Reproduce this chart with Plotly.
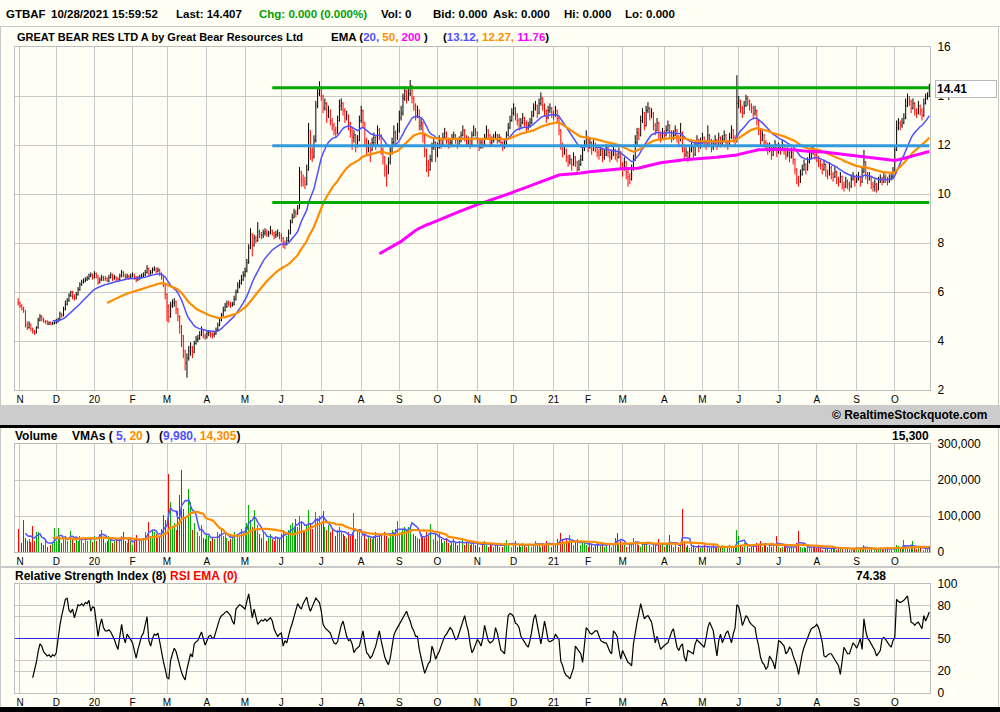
import numpy as np
import pandas as pd
import plotly.graph_objects as go

# ---------------- data ----------------
holidays = ["2019-11-28", "2019-12-25", "2020-01-01", "2020-01-20", "2020-02-17", "2020-04-10",
            "2020-05-25", "2020-07-03", "2020-09-07", "2020-11-26", "2020-12-25", "2021-01-01",
            "2021-01-18", "2021-02-15", "2021-04-02", "2021-05-31", "2021-07-05", "2021-09-06"]
first_open = 5.60

close = [
    5.55, 5.45, 5.30, 5.25, 4.65, 4.55, 4.70, 4.50, 4.40, 4.35,
    4.55, 4.85, 5.00, 4.90, 4.80, 4.80, 4.70, 4.75, 4.70, 4.72,
    4.75, 4.80, 4.90, 5.10, 5.05, 5.30, 5.50, 5.65, 5.85, 6.00,
    5.80, 5.75, 5.90, 6.10, 6.30, 6.40, 6.45, 6.50, 6.55, 6.65,
    6.70, 6.60, 6.75, 6.65, 6.40, 6.50, 6.60, 6.55, 6.55, 6.45,
    6.60, 6.70, 6.55, 6.60, 6.55, 6.50, 6.65, 6.80, 6.70, 6.60,
    6.65, 6.60, 6.65, 6.70, 6.60, 6.50, 6.55, 6.60, 6.65, 6.70,
    6.80, 6.95, 6.75, 6.80, 6.90, 6.95, 6.85, 6.90, 6.75, 6.60,
    6.30, 5.90, 5.40, 5.00, 5.45, 5.55, 5.60, 5.30, 5.00, 4.60,
    4.20, 3.60, 3.10, 3.30, 3.60, 3.75, 3.55, 3.90, 4.05, 4.10,
    4.25, 4.40, 4.20, 4.15, 4.30, 4.35, 4.30, 4.25, 4.30, 4.45,
    4.65, 4.85, 5.05, 5.25, 5.40, 5.55, 5.50, 5.45, 5.50, 5.70,
    6.00, 6.25, 6.35, 6.50, 6.70, 6.85, 7.20, 7.80, 8.35, 7.90,
    8.20, 8.10, 8.45, 8.35, 8.30, 8.40, 8.45, 8.35, 8.40, 8.50,
    8.40, 8.30, 8.35, 8.40, 8.30, 8.20, 8.00, 7.95, 8.10, 8.40,
    8.85, 9.05, 9.25, 9.20, 9.40, 10.90, 10.60, 10.50, 10.40, 11.00,
    12.60, 11.70, 11.50, 12.20, 13.60, 14.10, 14.30, 14.00, 13.50, 13.70,
    13.20, 13.40, 13.00, 12.80, 12.60, 12.50, 13.00, 13.60, 13.70, 13.40,
    13.10, 13.20, 12.90, 12.60, 12.30, 12.40, 12.00, 12.20, 13.00, 13.40,
    12.90, 12.20, 11.90, 12.00, 11.80, 12.10, 12.30, 12.00, 12.60, 12.40,
    11.80, 11.50, 11.00, 10.90, 11.30, 11.70, 12.10, 12.50, 12.30, 12.60,
    13.10, 13.30, 13.90, 14.20, 13.90, 14.10, 14.40, 13.90, 13.60, 13.20,
    13.40, 12.80, 12.90, 12.40, 11.80, 11.20, 11.00, 11.40, 11.90, 12.10,
    11.60, 11.90, 12.20, 12.00, 12.30, 12.50, 12.20, 12.00, 12.10, 12.30,
    12.40, 12.20, 12.00, 12.20, 12.40, 12.60, 12.30, 12.10, 12.20, 12.00,
    12.40, 12.60, 12.50, 12.20, 11.90, 12.10, 12.00, 12.30, 12.60, 12.40,
    12.10, 12.20, 12.30, 12.40, 12.20, 12.30, 12.10, 11.90, 12.00, 12.40,
    12.70, 13.00, 13.30, 13.50, 13.20, 13.00, 12.80, 12.90, 13.10, 12.90,
    12.70, 12.80, 12.90, 13.20, 13.50, 13.60, 13.30, 13.70, 13.90, 13.60,
    13.40, 13.10, 13.40, 13.50, 13.30, 13.20, 13.40, 13.10, 12.60, 12.00,
    11.70, 11.80, 11.50, 11.30, 11.40, 11.20, 11.50, 11.30, 11.00, 11.20,
    11.40, 11.80, 12.00, 12.30, 11.90, 12.10, 11.80, 12.00, 11.90, 11.70,
    11.60, 11.80, 11.50, 11.60, 11.90, 11.70, 11.50, 11.60, 11.80, 11.60,
    11.50, 11.70, 11.20, 11.00, 11.30, 10.90, 10.70, 10.60, 11.00, 11.40,
    12.10, 12.50, 12.40, 13.00, 13.30, 12.80, 13.40, 13.50, 13.20, 13.30,
    12.80, 12.60, 12.90, 12.40, 12.30, 12.50, 12.40, 12.60, 12.80, 12.50,
    12.30, 12.40, 12.60, 12.30, 12.20, 12.50, 11.90, 11.60, 11.70, 11.50,
    11.80, 11.90, 11.60, 12.00, 12.20, 11.90, 12.10, 12.30, 12.10, 12.00,
    12.40, 12.20, 11.90, 12.00, 12.20, 12.00, 12.30, 12.10, 12.20, 12.40,
    12.10, 12.00, 12.30, 12.60, 12.30, 12.20, 13.70, 13.80, 13.50, 13.30,
    13.60, 13.90, 13.80, 13.60, 13.50, 13.30, 13.40, 13.00, 12.60, 12.20,
    12.40, 12.10, 12.00, 11.80, 11.90, 11.60, 11.80, 12.00, 11.70, 11.90,
    11.80, 12.00, 11.80, 11.60, 11.70, 11.50, 11.70, 11.40, 11.00, 10.60,
    10.50, 10.80, 11.00, 11.20, 11.00, 11.30, 11.50, 11.70, 11.80, 11.60,
    11.50, 11.30, 11.20, 11.00, 11.20, 10.90, 10.80, 11.10, 10.80, 10.70,
    10.90, 10.60, 10.50, 10.70, 10.40, 10.30, 10.50, 10.40, 10.30, 10.60,
    10.70, 10.50, 10.60, 10.70, 10.50, 10.90, 11.30, 10.80, 10.60, 10.70,
    10.40, 10.30, 10.40, 10.20, 10.50, 10.60, 10.50, 10.70, 10.60, 10.50,
    10.60, 10.70, 10.90, 11.80, 12.70, 12.90, 12.80, 12.90, 13.10, 13.60,
    13.90, 13.80, 13.50, 13.70, 13.40, 13.30, 13.60, 13.40, 13.20, 13.70,
    13.90, 14.00, 14.407]

high = [
    5.75, 5.60, 5.50, 5.40, 5.25, 4.80, 4.80, 4.70, 4.55, 4.45,
    4.60, 4.95, 5.10, 5.05, 4.95, 4.85, 4.85, 4.80, 4.80, 4.78,
    4.80, 4.90, 4.95, 5.20, 5.15, 5.40, 5.65, 5.75, 5.95, 6.05,
    6.05, 5.90, 6.00, 6.20, 6.40, 6.50, 6.55, 6.60, 6.65, 6.75,
    6.80, 6.75, 6.85, 6.80, 6.70, 6.60, 6.70, 6.65, 6.65, 6.60,
    6.70, 6.80, 6.75, 6.70, 6.65, 6.60, 6.75, 6.90, 6.85, 6.75,
    6.75, 6.70, 6.75, 6.80, 6.75, 6.65, 6.65, 6.70, 6.75, 6.80,
    6.90, 7.10, 7.00, 6.90, 7.00, 7.05, 7.00, 7.00, 6.95, 6.80,
    6.65, 6.35, 5.95, 5.50, 5.60, 5.70, 5.75, 5.65, 5.35, 5.05,
    4.65, 4.25, 3.65, 3.50, 3.80, 3.95, 3.80, 4.00, 4.20, 4.25,
    4.40, 4.60, 4.45, 4.30, 4.45, 4.45, 4.40, 4.35, 4.40, 4.55,
    4.75, 4.95, 5.15, 5.40, 5.55, 5.65, 5.65, 5.60, 5.60, 5.85,
    6.10, 6.40, 6.50, 6.70, 6.85, 7.00, 7.35, 7.95, 8.60, 8.40,
    8.35, 8.30, 8.85, 8.55, 8.45, 8.55, 8.60, 8.55, 8.50, 8.70,
    8.55, 8.45, 8.50, 8.55, 8.45, 8.40, 8.25, 8.10, 8.25, 8.55,
    8.95, 9.20, 9.40, 9.35, 9.55, 11.10, 10.95, 10.80, 10.70, 11.20,
    12.90, 12.60, 11.90, 12.40, 13.80, 14.30, 14.60, 14.40, 14.05, 13.90,
    13.75, 13.60, 13.45, 13.10, 12.90, 12.75, 13.20, 13.85, 13.90, 13.75,
    13.50, 13.40, 13.25, 12.95, 12.70, 12.60, 12.45, 12.40, 13.20, 13.60,
    13.45, 12.95, 12.30, 12.20, 12.10, 12.30, 12.50, 12.35, 12.80, 12.70,
    12.45, 11.90, 11.55, 11.20, 11.50, 11.90, 12.30, 12.80, 12.60, 12.90,
    13.40, 13.60, 14.10, 14.40, 14.25, 14.30, 14.65, 14.45, 14.00, 13.70,
    13.60, 13.45, 13.10, 12.95, 12.45, 11.85, 11.40, 11.60, 12.10, 12.30,
    12.15, 12.10, 12.40, 12.30, 12.50, 12.70, 12.55, 12.30, 12.25, 12.45,
    12.55, 12.45, 12.30, 12.35, 12.55, 12.80, 12.65, 12.40, 12.35, 12.30,
    12.55, 12.80, 12.70, 12.55, 12.25, 12.25, 12.20, 12.45, 12.80, 12.65,
    12.45, 12.35, 12.45, 12.55, 12.45, 12.45, 12.35, 12.15, 12.20, 12.55,
    12.90, 13.20, 13.50, 13.70, 13.55, 13.30, 13.10, 13.10, 13.30, 13.15,
    13.00, 12.95, 13.10, 13.40, 13.70, 13.80, 13.65, 13.90, 14.15, 13.95,
    13.70, 13.45, 13.60, 13.70, 13.55, 13.40, 13.60, 13.45, 13.15, 12.65,
    12.10, 12.00, 11.85, 11.60, 11.60, 11.45, 11.70, 11.55, 11.35, 11.40,
    11.60, 12.00, 12.20, 12.60, 12.35, 12.30, 12.15, 12.20, 12.10, 12.00,
    11.85, 12.00, 11.85, 11.80, 12.05, 11.95, 11.75, 11.80, 12.00, 11.85,
    11.70, 11.90, 11.75, 11.30, 11.50, 11.35, 11.00, 10.85, 11.20, 11.60,
    12.40, 12.70, 12.70, 13.20, 13.50, 13.35, 13.60, 13.75, 13.55, 13.50,
    13.35, 12.90, 13.10, 12.95, 12.55, 12.70, 12.60, 12.80, 13.00, 12.85,
    12.60, 12.60, 12.80, 12.65, 12.40, 12.90, 12.55, 12.00, 11.90, 11.75,
    12.00, 12.10, 11.95, 12.20, 12.40, 12.25, 12.30, 12.50, 12.35, 12.20,
    12.80, 12.45, 12.25, 12.20, 12.40, 12.25, 12.50, 12.35, 12.40, 12.60,
    12.45, 12.20, 12.50, 12.80, 12.65, 12.40, 14.85, 14.00, 13.85, 13.60,
    13.80, 14.05, 14.00, 13.85, 13.70, 13.60, 13.60, 13.45, 13.05, 12.65,
    12.60, 12.45, 12.20, 12.10, 12.10, 11.95, 12.00, 12.20, 12.05, 12.10,
    12.00, 12.20, 12.05, 11.90, 11.90, 11.75, 11.90, 11.75, 11.45, 11.05,
    10.75, 11.00, 11.20, 11.40, 11.25, 11.50, 11.70, 11.90, 12.00, 11.85,
    11.70, 11.55, 11.40, 11.25, 11.40, 11.25, 11.00, 11.30, 11.15, 10.90,
    11.10, 10.95, 10.70, 10.90, 10.75, 10.50, 10.70, 10.60, 10.50, 10.80,
    10.90, 10.75, 10.80, 10.90, 10.75, 11.10, 11.80, 11.35, 10.90, 10.90,
    10.75, 10.50, 10.60, 10.45, 10.70, 10.80, 10.70, 10.90, 10.80, 10.70,
    10.80, 10.90, 11.10, 12.00, 13.00, 13.10, 13.00, 13.10, 13.30, 13.90,
    14.10, 14.00, 13.85, 13.90, 13.75, 13.50, 13.80, 13.65, 13.50, 13.90,
    14.10, 14.15, 14.50]

low = [
    5.45, 5.35, 5.25, 5.15, 4.55, 4.45, 4.50, 4.40, 4.30, 4.25,
    4.30, 4.50, 4.80, 4.80, 4.75, 4.70, 4.65, 4.65, 4.65, 4.65,
    4.68, 4.70, 4.75, 4.85, 4.95, 5.00, 5.25, 5.45, 5.60, 5.80,
    5.70, 5.65, 5.70, 5.85, 6.05, 6.25, 6.35, 6.40, 6.45, 6.50,
    6.60, 6.50, 6.55, 6.55, 6.30, 6.35, 6.45, 6.45, 6.45, 6.40,
    6.40, 6.55, 6.45, 6.50, 6.45, 6.40, 6.45, 6.60, 6.60, 6.50,
    6.55, 6.50, 6.55, 6.60, 6.50, 6.40, 6.45, 6.50, 6.55, 6.60,
    6.65, 6.75, 6.65, 6.70, 6.75, 6.85, 6.75, 6.80, 6.65, 6.50,
    6.20, 5.70, 4.80, 4.75, 4.95, 5.35, 5.40, 5.10, 4.80, 4.30,
    3.75, 3.30, 2.80, 2.50, 3.20, 3.40, 3.30, 3.50, 3.85, 3.95,
    4.05, 4.20, 4.10, 4.05, 4.10, 4.20, 4.15, 4.10, 4.15, 4.25,
    4.40, 4.60, 4.80, 5.00, 5.20, 5.35, 5.40, 5.35, 5.40, 5.45,
    5.65, 5.95, 6.15, 6.30, 6.45, 6.60, 6.80, 7.15, 7.75, 7.45,
    7.85, 8.00, 8.05, 8.20, 8.15, 8.20, 8.30, 8.25, 8.25, 8.35,
    8.30, 8.15, 8.20, 8.25, 8.15, 8.05, 7.80, 7.75, 7.90, 8.05,
    8.35, 8.80, 9.00, 9.05, 9.15, 9.40, 10.30, 10.30, 10.20, 10.35,
    10.95, 11.40, 11.30, 11.45, 12.10, 13.50, 14.00, 13.80, 13.30, 13.40,
    12.90, 13.10, 12.80, 12.60, 12.40, 12.30, 12.45, 12.95, 13.40, 13.20,
    12.90, 13.00, 12.60, 12.30, 11.80, 12.10, 11.70, 11.90, 12.15, 12.90,
    12.70, 12.00, 11.60, 11.70, 11.30, 11.75, 12.00, 11.80, 11.95, 12.20,
    11.60, 11.20, 10.70, 10.30, 10.80, 11.20, 11.60, 12.00, 12.10, 12.20,
    12.50, 13.00, 13.20, 13.80, 13.70, 13.80, 14.00, 13.70, 13.40, 13.00,
    13.10, 12.60, 12.60, 12.10, 11.50, 10.90, 10.70, 10.95, 11.30, 11.80,
    11.30, 11.50, 11.85, 11.85, 11.95, 12.20, 12.05, 11.85, 11.90, 12.00,
    12.20, 12.05, 11.85, 11.95, 12.10, 12.35, 12.15, 11.95, 12.00, 11.85,
    11.95, 12.35, 12.35, 12.05, 11.75, 11.85, 11.85, 11.95, 12.25, 12.25,
    11.95, 12.00, 12.10, 12.20, 12.05, 12.10, 11.95, 11.75, 11.85, 11.95,
    12.35, 12.65, 12.95, 13.20, 13.00, 12.80, 12.60, 12.70, 12.85, 12.70,
    12.55, 12.60, 12.70, 12.85, 13.15, 13.40, 13.10, 13.25, 13.60, 13.40,
    13.20, 12.90, 13.05, 13.30, 13.10, 13.00, 13.15, 12.90, 12.40, 11.80,
    11.50, 11.60, 11.30, 11.10, 11.20, 10.95, 11.15, 11.10, 10.80, 10.95,
    11.15, 11.35, 11.75, 11.95, 11.70, 11.85, 11.60, 11.75, 11.70, 11.50,
    11.40, 11.55, 11.30, 11.40, 11.55, 11.50, 11.30, 11.40, 11.55, 11.40,
    11.30, 11.45, 11.00, 10.70, 10.95, 10.60, 10.30, 10.40, 10.55, 10.95,
    11.35, 12.00, 12.20, 12.35, 12.90, 12.60, 12.75, 13.30, 13.00, 13.10,
    12.60, 12.40, 12.55, 12.20, 12.10, 12.25, 12.20, 12.35, 12.55, 12.30,
    12.10, 12.20, 12.35, 12.10, 12.00, 12.15, 11.70, 11.40, 11.50, 11.30,
    11.45, 11.70, 11.40, 11.55, 11.95, 11.70, 11.85, 12.05, 11.90, 11.80,
    11.95, 12.00, 11.70, 11.80, 11.95, 11.80, 11.95, 11.90, 12.00, 12.15,
    11.90, 11.80, 11.95, 12.25, 12.10, 12.00, 12.10, 13.50, 13.30, 13.10,
    13.25, 13.55, 13.60, 13.40, 13.30, 13.10, 13.20, 12.80, 12.40, 12.00,
    12.15, 11.90, 11.80, 11.60, 11.70, 11.40, 11.55, 11.75, 11.50, 11.65,
    11.60, 11.75, 11.60, 11.40, 11.50, 11.30, 11.45, 11.20, 10.80, 10.40,
    10.30, 10.45, 10.75, 10.95, 10.80, 10.95, 11.25, 11.45, 11.60, 11.40,
    11.30, 11.10, 11.00, 10.80, 10.95, 10.70, 10.60, 10.75, 10.60, 10.50,
    10.65, 10.40, 10.30, 10.45, 10.20, 10.10, 10.25, 10.20, 10.10, 10.25,
    10.55, 10.30, 10.45, 10.55, 10.30, 10.45, 10.85, 10.60, 10.40, 10.55,
    10.20, 10.10, 10.10, 10.05, 10.15, 10.45, 10.35, 10.45, 10.45, 10.35,
    10.45, 10.55, 10.65, 10.85, 11.75, 12.60, 12.60, 12.70, 12.85, 13.05,
    13.55, 13.60, 13.30, 13.45, 13.20, 13.10, 13.25, 13.20, 13.00, 13.15,
    13.65, 13.85, 13.95]

volume_thousands = [
    64, 45, 24, 89, 40, 30, 35, 28, 72, 30,
    55, 55, 40, 25, 20, 30, 15, 35, 20, 25,
    68, 30, 66, 40, 25, 35, 45, 30, 50, 58,
    35, 25, 40, 30, 45, 35, 25, 40, 30, 50,
    35, 28, 45, 30, 61, 50, 62, 35, 25, 30,
    45, 35, 25, 30, 40, 30, 35, 45, 55, 30,
    25, 35, 30, 20, 40, 48, 25, 30, 35, 40,
    55, 60, 84, 45, 60, 55, 50, 40, 45, 65,
    103, 90, 60, 218, 140, 70, 80, 60, 114, 158,
    228, 120, 95, 110, 175, 140, 60, 80, 65, 55,
    45, 75, 40, 35, 50, 45, 30, 40, 35, 45,
    55, 50, 60, 45, 55, 40, 30, 35, 45, 55,
    60, 50, 45, 65, 55, 70, 80, 130, 90, 70,
    117, 60, 75, 50, 40, 55, 45, 30, 40, 50,
    35, 30, 45, 40, 35, 50, 60, 55, 45, 60,
    75, 80, 65, 92, 70, 100, 85, 60, 55, 75,
    117, 80, 65, 85, 110, 95, 100, 80, 114, 70,
    60, 75, 55, 65, 50, 45, 60, 70, 55, 50,
    45, 40, 55, 45, 50, 107, 35, 60, 55, 45,
    40, 50, 35, 45, 40, 35, 45, 55, 40, 45,
    50, 60, 55, 45, 40, 50, 60, 55, 65, 86,
    50, 55, 60, 70, 60, 70, 70, 135, 50, 45,
    40, 35, 50, 45, 40, 55, 45, 77, 45, 35,
    50, 30, 52, 35, 25, 30, 40, 25, 20, 30,
    35, 25, 20, 30, 25, 35, 20, 25, 30, 20,
    25, 30, 20, 25, 15, 20, 25, 30, 20, 15,
    25, 20, 15, 20, 25, 15, 20, 15, 25, 33,
    20, 25, 15, 20, 30, 15, 20, 15, 25, 20,
    15, 20, 25, 15, 20, 30, 25, 20, 15, 25,
    20, 30, 25, 20, 15, 25, 20, 35, 30, 54,
    35, 25, 40, 30, 46, 25, 20, 30, 35, 25,
    20, 30, 25, 20, 15, 25, 20, 15, 20, 25,
    15, 20, 25, 15, 20, 25, 20, 15, 25, 38,
    54, 25, 30, 20, 25, 15, 20, 25, 20, 40,
    30, 25, 20, 15, 25, 20, 25, 30, 20, 15,
    25, 20, 15, 35, 20, 25, 15, 20, 25, 48,
    20, 15, 25, 20, 15, 20, 120, 25, 15, 20,
    10, 15, 20, 10, 15, 20, 10, 15, 20, 10,
    15, 10, 15, 20, 10, 15, 10, 15, 20, 10,
    15, 10, 20, 15, 10, 15, 61, 44, 20, 15,
    25, 15, 20, 10, 15, 20, 15, 25, 20, 30,
    15, 20, 25, 15, 20, 15, 25, 20, 44, 15,
    10, 15, 20, 10, 15, 10, 15, 10, 20, 25,
    58, 15, 10, 15, 10, 20, 15, 10, 15, 20,
    10, 15, 10, 5, 10, 15, 10, 5, 10, 15,
    10, 5, 10, 15, 10, 5, 10, 15, 5, 10,
    5, 10, 15, 5, 10, 15, 20, 10, 5, 10,
    15, 5, 10, 5, 10, 15, 10, 5, 10, 15,
    5, 10, 5, 8, 20, 18, 10, 8, 32, 20,
    15, 8, 20, 30, 12, 8, 12, 15, 10, 5,
    10, 9.6, 15.3]

rsi8 = [
    None, None, None, None, None, None, None, None, 14, 20,
    28, 38, 45, 43, 38, 36, 34, 35, 33, 35,
    34, 37, 51, 62, 71, 80, 86, 87, 76, 74,
    77, 69, 75, 81, 80, 82, 80, 83, 82, 85,
    75, 79, 78, 64, 52, 62, 68, 60, 57, 57,
    58, 56, 53, 49, 44, 40, 52, 63, 52, 46,
    54, 52, 49, 46, 40, 32, 40, 46, 52, 55,
    62, 70, 48, 43, 50, 54, 53, 55, 47, 36,
    29, 22, 14, 13, 30, 36, 41, 38, 31, 26,
    19, 15, 12, 22, 28, 36, 33, 45, 47, 48,
    52, 56, 50, 44, 48, 52, 53, 50, 51, 57,
    64, 68, 71, 72, 74, 75, 73, 71, 66, 63,
    77, 79, 81, 80, 78, 77, 84, 91, 80, 69,
    77, 70, 63, 65, 67, 66, 68, 66, 68, 69,
    66, 59, 55, 52, 54, 55, 43, 48, 46, 53,
    59, 64, 71, 76, 82, 79, 77, 82, 85, 88,
    80, 75, 79, 84, 87, 85, 83, 75, 63, 60,
    58, 56, 55, 50, 46, 45, 47, 55, 62, 66,
    58, 52, 48, 49, 45, 37, 40, 42, 43, 50,
    57, 46, 37, 35, 32, 34, 38, 43, 50, 57,
    48, 40, 33, 29, 26, 32, 42, 53, 57, 60,
    63, 66, 68, 71, 75, 70, 66, 60, 57, 52,
    52, 40, 31, 25, 18, 22, 27, 29, 43, 38,
    31, 35, 38, 43, 47, 52, 54, 57, 60, 58,
    53, 49, 50, 55, 62, 67, 71, 63, 57, 45,
    37, 40, 45, 49, 47, 43, 50, 62, 55, 48,
    46, 47, 49, 60, 55, 47, 39, 38, 36, 55,
    71, 73, 72, 70, 64, 63, 60, 52, 49, 46,
    44, 42, 48, 57, 68, 72, 62, 52, 45, 55,
    66, 58, 48, 47, 48, 49, 54, 52, 49, 29,
    25, 19, 16, 15, 13, 18, 23, 43, 41, 38,
    36, 28, 42, 60, 58, 55, 54, 56, 57, 57,
    52, 48, 47, 46, 46, 42, 38, 36, 57, 55,
    52, 40, 31, 39, 35, 31, 28, 27, 25, 45,
    57, 65, 73, 82, 75, 68, 70, 71, 68, 65,
    56, 46, 52, 47, 40, 42, 44, 45, 46, 52,
    56, 59, 50, 42, 39, 43, 45, 33, 29, 39,
    38, 37, 36, 45, 49, 47, 45, 43, 42, 50,
    60, 65, 60, 57, 45, 34, 48, 54, 46, 50,
    55, 57, 52, 46, 54, 60, 81, 79, 72, 62,
    66, 71, 69, 65, 63, 61, 60, 50, 43, 33,
    28, 26, 22, 24, 34, 31, 28, 22, 36, 48,
    47, 45, 43, 36, 38, 42, 40, 34, 29, 25,
    17, 27, 36, 42, 47, 51, 55, 59, 60, 61,
    63, 60, 54, 47, 34, 33, 35, 36, 36, 33,
    31, 28, 25, 17, 30, 42, 39, 36, 36, 42,
    46, 44, 41, 45, 50, 40, 68, 57, 50, 48,
    45, 43, 39, 34, 36, 39, 50, 51, 49, 46,
    44, 42, 48, 51, 86, 84, 83, 84, 85, 87,
    89, 78, 65, 64, 62, 64, 65, 62, 59, 71,
    66, 70, 74.38]

green_levels = [14.34, 9.65]
blue_levels = [11.97]
levels_start = "2020-05-22"
ema_periods = [20, 50, 200]
vma_periods = [5, 20]

# ---------------- derived series ----------------
all_days = pd.bdate_range("2019-10-31", "2021-10-28")
dates = [d for d in all_days if d.strftime("%Y-%m-%d") not in holidays]
n = len(close)
dates = dates[:n]
idx = np.arange(n)
opens = [first_open] + close[:-1]
hi = np.maximum.reduce([np.array(high), np.array(opens), np.array(close)])
lo = np.minimum.reduce([np.array(low), np.array(opens), np.array(close)])


def ema(vals, period):
    out = [None] * len(vals)
    k = 2.0 / (period + 1)
    e = sum(vals[:period]) / period
    out[period - 1] = e
    for i in range(period, len(vals)):
        e = vals[i] * k + e * (1 - k)
        out[i] = e
    return out


vol = np.array(volume_thousands) * 1000.0
vol_colors = ["#00B000" if close[i] >= opens[i] else "#FF0000" for i in range(n)]
vma = {p: pd.Series(vol).rolling(p).mean() for p in vma_periods}

tickvals, ticktext = [], []
letters = "JFMAMJJASOND"
for i in range(1, n):
    if dates[i].month != dates[i - 1].month:
        tickvals.append(i)
        ticktext.append(dates[i].strftime("%y") if dates[i].month == 1 else letters[dates[i].month - 1])

start_i = next(i for i, d in enumerate(dates) if d >= pd.Timestamp(levels_start))

# ---------------- figure ----------------
W, H = 1000, 712
CREAM = "#FFFFF5"
GRID = "#C8C8C8"
FRAME = "#BDBDBD"
FONT = "Liberation Sans, Arial, sans-serif"
BLUE = "#5050FF"
ORANGE = "#FF8C00"
MAGENTA = "#FF00FF"


def px(x):
    return x / W


def py(y):
    return 1 - y / H


fig = go.Figure()

fig.add_trace(go.Ohlc(x=idx, open=opens, high=hi, low=lo, close=close,
                      increasing=dict(line=dict(color="black", width=1)),
                      decreasing=dict(line=dict(color="#FF0000", width=1)),
                      tickwidth=0.3, xaxis="x", yaxis="y", hoverinfo="skip"))

ema_styles = {20: (BLUE, 1.5), 50: (ORANGE, 2.2), 200: (MAGENTA, 3)}
for p in ema_periods:
    col, w = ema_styles[p]
    fig.add_trace(go.Scatter(x=idx, y=ema(close, p), mode="lines",
                             line=dict(color=col, width=w), xaxis="x", yaxis="y", hoverinfo="skip"))

fig.add_trace(go.Bar(x=idx, y=vol, marker=dict(color=vol_colors, line=dict(width=0)),
                     width=0.5, xaxis="x2", yaxis="y2", hoverinfo="skip"))
fig.add_trace(go.Scatter(x=idx, y=vma[5], mode="lines", line=dict(color=BLUE, width=1.5),
                         xaxis="x2", yaxis="y2", hoverinfo="skip"))
fig.add_trace(go.Scatter(x=idx, y=vma[20], mode="lines", line=dict(color=ORANGE, width=2.2),
                         xaxis="x2", yaxis="y2", hoverinfo="skip"))

fig.add_trace(go.Scatter(x=idx, y=rsi8, mode="lines", line=dict(color="black", width=1.2),
                         xaxis="x3", yaxis="y3", hoverinfo="skip"))

xr = [-1.75, 502.4]
xcommon = dict(range=xr, tickvals=tickvals, ticktext=ticktext, showgrid=True, gridcolor=GRID,
               gridwidth=1, ticks="", showline=True, linecolor=FRAME, mirror=True, zeroline=False,
               tickfont=dict(family=FONT, size=10, color="black"), domain=[0.015, 0.93],
               fixedrange=True, automargin=False)
ycommon = dict(side="right", showgrid=True, gridcolor=GRID, gridwidth=1, ticks="", showline=True,
               linecolor=FRAME, mirror=True, zeroline=False, ticklabelstandoff=4,
               tickfont=dict(family=FONT, size=12, color="black"), fixedrange=True, automargin=False)

fig.update_layout(
    width=W, height=H, margin=dict(l=0, r=0, t=0, b=0, pad=0, autoexpand=False),
    paper_bgcolor=CREAM, plot_bgcolor=CREAM, showlegend=False, bargap=0,
    xaxis=dict(**xcommon, anchor="y", rangeslider=dict(visible=False)),
    yaxis=dict(**ycommon, anchor="x", domain=[py(390), py(47)], range=[2, 16],
               tickvals=list(range(2, 17, 2))),
    xaxis2=dict(**xcommon, anchor="y2"),
    yaxis2=dict(**ycommon, anchor="x2", domain=[py(552), py(444)], range=[0, 300000],
                tickvals=[0, 100000, 200000, 300000], ticktext=["0", "100,000", "200,000", "300,000"]),
    xaxis3=dict(**xcommon, anchor="y3"),
    yaxis3=dict(**ycommon, anchor="x3", domain=[py(693), py(584)], range=[0, 100],
                tickvals=[0, 20, 30, 50, 70, 80, 100], ticktext=["0", "20", "", "50", "", "80", "100"]),
)

shapes = []
# panel chrome
shapes.append(dict(type="rect", xref="paper", yref="paper", x0=0, x1=1, y0=py(425), y1=py(405),
                   fillcolor="#CCCCCC", line=dict(width=0), layer="below"))
shapes.append(dict(type="rect", xref="paper", yref="paper", x0=0, x1=1, y0=py(428), y1=py(425),
                   fillcolor="black", line=dict(width=0), layer="below"))
shapes.append(dict(type="rect", xref="paper", yref="paper", x0=0, x1=1, y0=py(568), y1=py(566),
                   fillcolor="#C8C8C8", line=dict(width=0), layer="below"))
shapes.append(dict(type="rect", xref="paper", yref="paper", x0=0, x1=1, y0=0, y1=py(707),
                   fillcolor="black", line=dict(width=0), layer="below"))
shapes.append(dict(type="line", xref="paper", yref="paper", x0=0, x1=1, y0=py(26.5), y1=py(26.5),
                   line=dict(color="#C8C8C8", width=1), layer="below"))
for (ya, yb) in [(27, 405), (428, 566), (568, 707)]:
    shapes.append(dict(type="line", xref="paper", yref="paper", x0=px(0.5), x1=px(0.5), y0=py(yb), y1=py(ya),
                       line=dict(color="#C8C8C8", width=1), layer="below"))
    shapes.append(dict(type="line", xref="paper", yref="paper", x0=px(998.5), x1=px(998.5), y0=py(yb), y1=py(ya),
                       line=dict(color="#C8C8C8", width=1), layer="below"))
# support / resistance lines
for lv in green_levels:
    shapes.append(dict(type="line", xref="x", yref="y", x0=start_i, x1=n - 1, y0=lv, y1=lv,
                       line=dict(color="#00AA00", width=3), layer="above"))
for lv in blue_levels:
    shapes.append(dict(type="line", xref="x", yref="y", x0=start_i, x1=n - 1, y0=lv, y1=lv,
                       line=dict(color="#3399DD", width=3), layer="above"))
# RSI 50 line
shapes.append(dict(type="line", xref="x3", yref="y3", x0=xr[0], x1=xr[1], y0=50, y1=50,
                   line=dict(color="#2B2BD9", width=1), layer="above"))
fig.update_layout(shapes=shapes)

anns = []


def txt(x, y, text, color="black", size=12, bold=True, anchor="left"):
    t = f"<b>{text}</b>" if bold else text
    anns.append(dict(xref="paper", yref="paper", x=px(x), y=py(y), text=t, showarrow=False,
                     xanchor=anchor, yanchor="middle", align="left", borderpad=0,
                     font=dict(family=FONT, size=size, color=color)))


def span(c, t):
    return f'<span style="color:{c}">{t}</span>'


# header line
header = [(4.5, "GTBAF", "black"), (50.4, "10/28/2021 15:59:52", "black"),
          (175.4, "Last: 14.407", "black"), (258, "Chg: 0.000 (0.000%)", "#00A000"),
          (380, "Vol: 0", "black"), (432, "Bid: 0.000", "black"), (492, "Ask: 0.000", "black"),
          (563, "Hi: 0.000", "black"), (624, "Lo: 0.000", "black")]
for x, t, c in header:
    txt(x, 14, t, c, size=11.5)

txt(15.6, 37, "GREAT BEAR RES LTD A by Great Bear Resources Ltd", size=11)
txt(329.5, 37, "EMA (" + span(BLUE, "20, ") + span(ORANGE, "50, ") + span(MAGENTA, "200") + " )", size=11.5)
txt(442, 37, "(" + span(BLUE, "13.12, ") + span(ORANGE, "12.27, ") + span(MAGENTA, "11.76") + ")", size=11.5)

txt(989, 415, "© RealtimeStockquote.com", anchor="right")

txt(14.3, 436, "Volume")
txt(71, 436, "VMAs ( " + span(BLUE, "5,") + " " + span(ORANGE, "20") + " )")
txt(158, 436, "(" + span(BLUE, "9,980,") + " " + span(ORANGE, "14,305") + ")")
txt(930, 436, "15,300", anchor="right")

txt(14.3, 576, "Relative Strength Index (8)")
txt(169.3, 576, "RSI EMA (0)", color="#FF0000")
txt(887, 576, "74.38", anchor="right")

anns.append(dict(xref="paper", yref="paper", x=px(934.5), y=py(89.5), text="<b>14.41</b>",
                 showarrow=False, xanchor="left", yanchor="middle", align="left", width=58,
                 bordercolor="#B8B8B8", borderwidth=1, borderpad=1, bgcolor="white",
                 font=dict(family=FONT, size=12, color="black")))
fig.update_layout(annotations=anns)

fig.write_html("out.html", config={"displayModeBar": False, "staticPlot": True},
               post_script="document.body.style.margin='0';document.body.style.overflow='hidden';")
